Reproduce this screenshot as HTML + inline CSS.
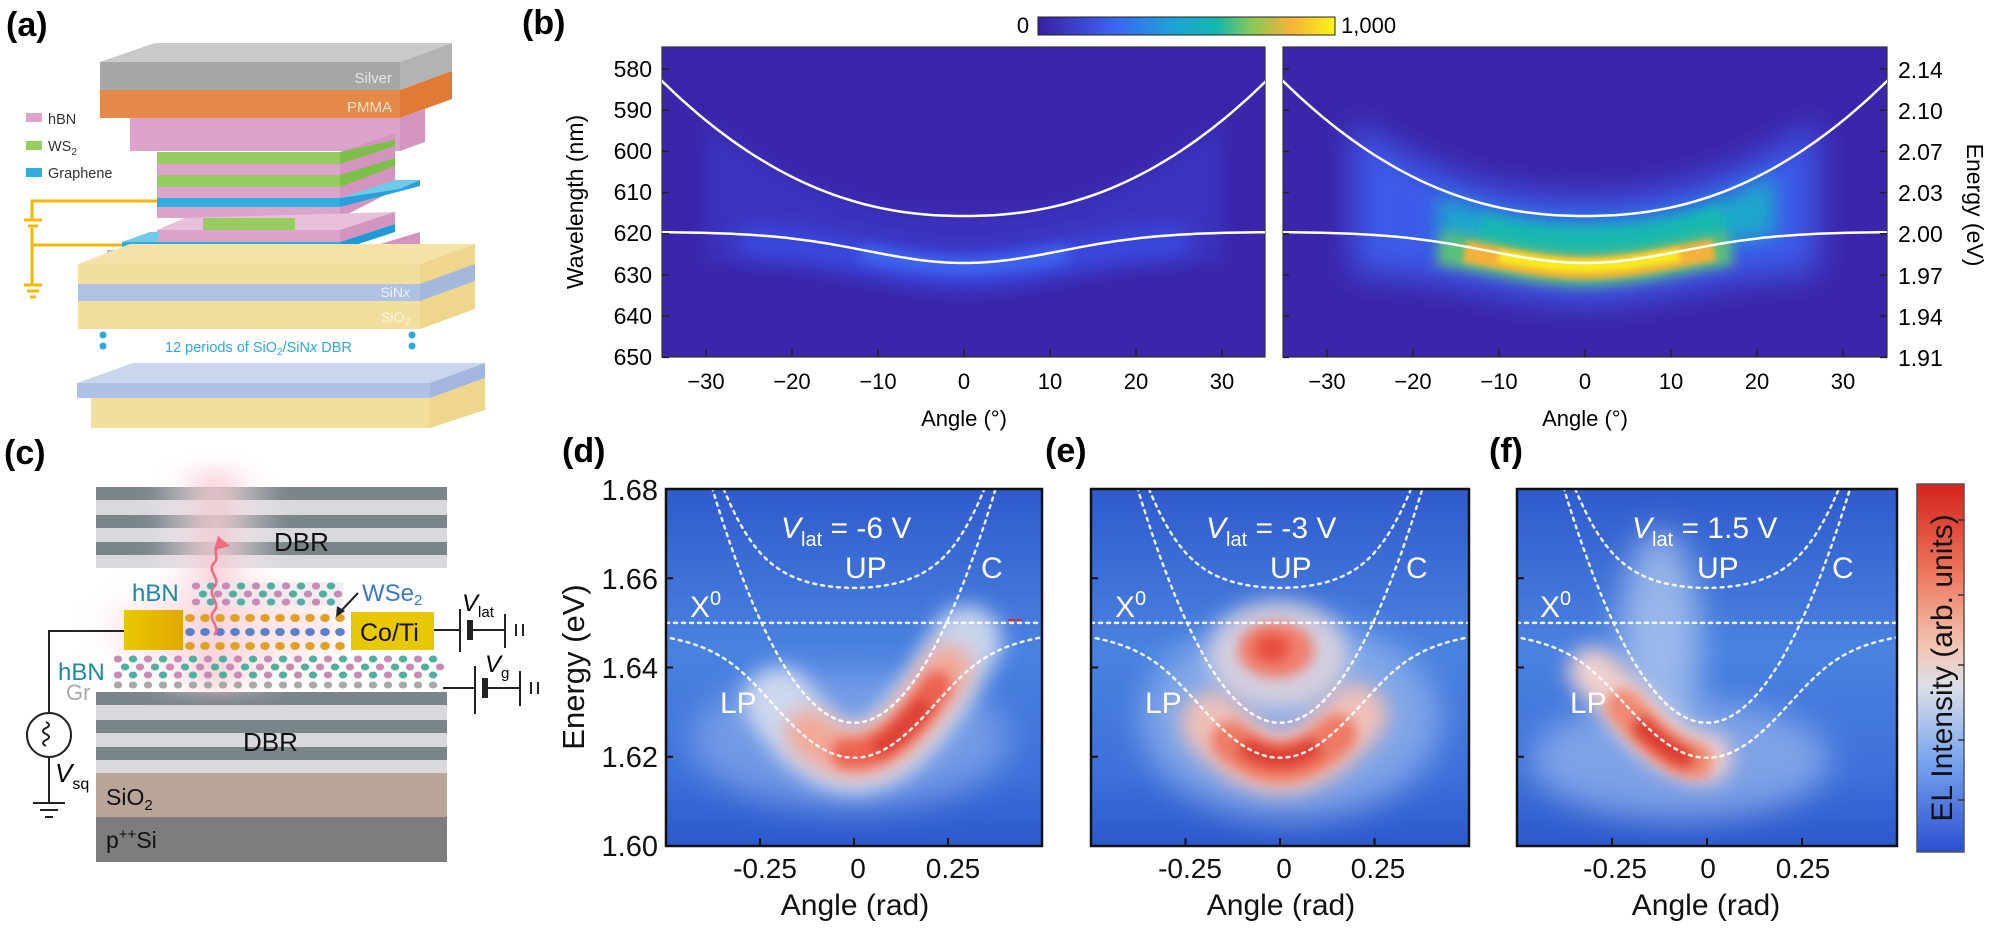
<!DOCTYPE html>
<html><head><meta charset="utf-8">
<style>
html,body{margin:0;padding:0;background:#fff;}
svg{display:block;font-family:"Liberation Sans",Arial,sans-serif;}
</style></head>
<body>
<svg id="s" width="1996" height="930" viewBox="0 0 1996 930" xmlns="http://www.w3.org/2000/svg">
<defs>
 <filter id="b3" filterUnits="userSpaceOnUse" x="0" y="0" width="1996" height="930"><feGaussianBlur stdDeviation="3"/></filter>
 <filter id="b6" filterUnits="userSpaceOnUse" x="0" y="0" width="1996" height="930"><feGaussianBlur stdDeviation="6"/></filter>
 <filter id="b10" filterUnits="userSpaceOnUse" x="0" y="0" width="1996" height="930"><feGaussianBlur stdDeviation="10"/></filter>
 <filter id="b16" filterUnits="userSpaceOnUse" x="0" y="0" width="1996" height="930"><feGaussianBlur stdDeviation="16"/></filter>
 <clipPath id="cbL"><rect x="662" y="47" width="603" height="310"/></clipPath>
 <clipPath id="cbR"><rect x="1283" y="47" width="604" height="310"/></clipPath>
 <clipPath id="cd"><rect x="666" y="489" width="376" height="357"/></clipPath>
 <clipPath id="ce"><rect x="1091" y="489" width="378" height="357"/></clipPath>
 <clipPath id="cf"><rect x="1517" y="489" width="380" height="357"/></clipPath>
 <linearGradient id="parula" x1="0" x2="1" y1="0" y2="0">
  <stop offset="0" stop-color="#3a1f9e"/><stop offset="0.25" stop-color="#3c62f2"/>
  <stop offset="0.45" stop-color="#1ea2d8"/><stop offset="0.6" stop-color="#14b7ad"/>
  <stop offset="0.72" stop-color="#86c958"/><stop offset="0.85" stop-color="#f6b238"/>
  <stop offset="1" stop-color="#f9f516"/>
 </linearGradient>
 <linearGradient id="elcb" x1="0" x2="0" y1="0" y2="1">
  <stop offset="0" stop-color="#d4231c"/><stop offset="0.25" stop-color="#ee7a60"/>
  <stop offset="0.45" stop-color="#f2c8b8"/><stop offset="0.55" stop-color="#dcdfe8"/>
  <stop offset="0.75" stop-color="#79a4ee"/><stop offset="1" stop-color="#2a4fcf"/>
 </linearGradient>
 <linearGradient id="dbg" x1="0" x2="0" y1="0" y2="1">
  <stop offset="0" stop-color="#2f5bcc"/><stop offset="0.45" stop-color="#4a82e0"/>
  <stop offset="0.8" stop-color="#3d70da"/><stop offset="1" stop-color="#2c58cc"/>
 </linearGradient>
 <linearGradient id="gold" x1="0" x2="1"><stop offset="0" stop-color="#e9c800"/><stop offset="1" stop-color="#e0a800"/></linearGradient>
 <linearGradient id="glowv" x1="0" x2="1"><stop offset="0" stop-color="#fff" stop-opacity="0"/><stop offset="0.5" stop-color="#f6c8d0" stop-opacity="0.9"/><stop offset="1" stop-color="#fff" stop-opacity="0"/></linearGradient>
</defs>

<!-- ============ (a) ============ -->
<text x="6" y="36" font-size="34" font-weight="bold">(a)</text>
<polygon points="100,62 155,43 452,43 400,62" fill="#c9c9c9"/>
<rect x="100" y="62" width="300" height="28" fill="#a6a6a6"/>
<polygon points="400,62 452,43 452,71 400,90" fill="#b3b3b3"/>
<text x="392" y="83" font-size="15" fill="#e8e8e8" text-anchor="end">Silver</text>
<rect x="100" y="90" width="300" height="28" fill="#e5894a"/>
<polygon points="400,90 452,71 452,99 400,118" fill="#e07a36"/>
<text x="392" y="112" font-size="15" fill="#fbe0cc" text-anchor="end">PMMA</text>
<rect x="130" y="118" width="270" height="33" fill="#dda4cb"/>
<polygon points="400,118 425,109 425,142 400,151" fill="#d395c0"/>
<rect x="157" y="152" width="183" height="12" fill="#97cd60"/>
<rect x="157" y="164" width="183" height="11" fill="#dda4cb"/>
<rect x="157" y="175" width="183" height="12" fill="#97cd60"/>
<rect x="157" y="187" width="183" height="11" fill="#dda4cb"/>
<rect x="157" y="198" width="183" height="9" fill="#30aee0"/>
<rect x="157" y="207" width="183" height="11" fill="#dda4cb"/>
<polygon points="340,152 395,133 395,190 340,218" fill="#d395c0"/>
<polygon points="340,152 395,140 395,146 340,164" fill="#7cc04a"/>
<polygon points="340,175 395,158 395,166 340,187" fill="#7cc04a"/>
<polygon points="340,198 420,180 420,186 340,207" fill="#2aa0d8"/>
<polygon points="340,198 395,180 420,180 400,189" fill="#6ecae8"/>
<polygon points="157,230 185,218 395,212 390,220 340,230" fill="#e8c0da"/>
<rect x="203" y="218" width="92" height="12" fill="#97cd60"/>
<rect x="157" y="230" width="183" height="12" fill="#dda4cb"/>
<polygon points="340,230 395,212 395,224 340,242" fill="#d395c0"/>
<polygon points="122,242 150,232 160,232 157,242" fill="#6ecae8"/>
<rect x="122" y="242" width="218" height="8" fill="#2aaee2"/>
<polygon points="340,242 395,224 395,232 340,250" fill="#1f9ad6"/>
<rect x="107" y="250" width="253" height="12" fill="#dda4cb"/>
<polygon points="360,250 420,232 420,244 360,262" fill="#d395c0"/>
<polygon points="78,264 130,244 475,244 420,264" fill="#f5e2a8"/>
<rect x="78" y="264" width="342" height="20" fill="#f3df9d"/>
<rect x="78" y="284" width="342" height="17" fill="#afc2e3"/>
<rect x="78" y="301" width="342" height="28" fill="#f3df9d"/>
<polygon points="420,264 475,244 475,309 420,329" fill="#efd68d"/>
<polygon points="420,284 475,264 475,281 420,301" fill="#a4b8de"/>
<text x="410" y="297" font-size="14" fill="#eef2fa" text-anchor="end">SiN<tspan font-style="italic">x</tspan></text>
<text x="410" y="322" font-size="14" fill="#fbf3dc" text-anchor="end">SiO<tspan font-size="10" dy="3">2</tspan></text>
<circle cx="103" cy="335" r="3.5" fill="#29a9e0"/><circle cx="103" cy="346" r="3.5" fill="#29a9e0"/>
<circle cx="412" cy="335" r="3.5" fill="#29a9e0"/><circle cx="412" cy="346" r="3.5" fill="#29a9e0"/>
<text x="165" y="352" font-size="14.5" fill="#29a9e0">12 periods of SiO<tspan font-size="10" dy="3">2</tspan><tspan dy="-3">/SiN</tspan><tspan font-style="italic">x</tspan> DBR</text>
<polygon points="77,383 133,363 485,363 430,383" fill="#c9d6ee"/>
<rect x="77" y="383" width="353" height="15" fill="#aec0e3"/>
<polygon points="430,383 485,363 485,378 430,398" fill="#a2b6de"/>
<rect x="91" y="398" width="339" height="30" fill="#f3df9d"/>
<polygon points="430,398 485,378 485,410 430,428" fill="#efd68d"/>
<rect x="26" y="113" width="16" height="9" fill="#dda4cb"/><text x="48" y="124" font-size="14.5" fill="#333">hBN</text>
<rect x="26" y="141" width="16" height="9" fill="#97cd60"/><text x="48" y="151" font-size="14.5" fill="#333">WS<tspan font-size="10" dy="4">2</tspan></text>
<rect x="26" y="168" width="16" height="9" fill="#30aee0"/><text x="48" y="178" font-size="14.5" fill="#333">Graphene</text>
<g stroke="#f5b800" stroke-width="3" fill="none">
 <path d="M157,201 H32 V220 M24,220 H42 M28,226 H38 M32,228 V285 M32,245 H122 M24,285 H42 M27,291 H39 M30,297 H36"/>
</g>

<!-- ============ (b) ============ -->
<text x="522" y="34" font-size="34" font-weight="bold">(b)</text>
<rect x="1038" y="17" width="297" height="18" fill="url(#parula)" stroke="#222" stroke-width="1"/>
<text x="1023" y="33" font-size="22" text-anchor="middle">0</text>
<text x="1341" y="33" font-size="22">1,000</text>
<rect x="662" y="47" width="603" height="310" fill="#3b25aa" stroke="#333" stroke-width="1.2"/>
<rect x="1283" y="47" width="604" height="310" fill="#3b25aa" stroke="#333" stroke-width="1.2"/>
<g id="bL" clip-path="url(#cbL)"></g>
<g id="bR" clip-path="url(#cbR)"></g>
<g font-size="23" text-anchor="end">
 <text x="652" y="77">580</text><text x="652" y="118">590</text><text x="652" y="159">600</text><text x="652" y="200">610</text>
 <text x="652" y="241">620</text><text x="652" y="283">630</text><text x="652" y="324">640</text><text x="652" y="365">650</text>
</g>
<g font-size="23" text-anchor="start">
 <text x="1898" y="78">2.14</text><text x="1898" y="119">2.10</text><text x="1898" y="160">2.07</text><text x="1898" y="201">2.03</text>
 <text x="1898" y="242">2.00</text><text x="1898" y="284">1.97</text><text x="1898" y="325">1.94</text><text x="1898" y="366">1.91</text>
</g>
<text transform="translate(583,202) rotate(-90)" font-size="23" text-anchor="middle">Wavelength (nm)</text>
<text transform="translate(1967,205) rotate(90)" font-size="23" text-anchor="middle">Energy (eV)</text>
<g font-size="22" text-anchor="middle">
 <text x="706" y="389">−30</text><text x="792" y="389">−20</text><text x="878" y="389">−10</text><text x="964" y="389">0</text>
 <text x="1050" y="389">10</text><text x="1136" y="389">20</text><text x="1222" y="389">30</text>
 <text x="1327" y="389">−30</text><text x="1413" y="389">−20</text><text x="1499" y="389">−10</text><text x="1585" y="389">0</text>
 <text x="1671" y="389">10</text><text x="1757" y="389">20</text><text x="1843" y="389">30</text>
</g>
<text x="964" y="426" font-size="22" text-anchor="middle">Angle (°)</text>
<text x="1585" y="426" font-size="22" text-anchor="middle">Angle (°)</text>

<!-- ============ (c) ============ -->
<text x="4" y="464" font-size="34" font-weight="bold">(c)</text>
<g id="cdbr">
 <rect x="96" y="487" width="351" height="81" fill="#d8d8dd"/>
 <rect x="96" y="487" width="351" height="13" fill="#7a858a"/>
 <rect x="96" y="515" width="351" height="13" fill="#7a858a"/>
 <rect x="96" y="542" width="351" height="13" fill="#7a858a"/>
 <rect x="96" y="692" width="351" height="81" fill="#d8d8dd"/>
 <rect x="96" y="692" width="351" height="13" fill="#7a858a"/>
 <rect x="96" y="720" width="351" height="13" fill="#7a858a"/>
 <rect x="96" y="747" width="351" height="13" fill="#7a858a"/>
 <rect x="96" y="773" width="351" height="44" fill="#b8a597"/>
 <rect x="96" y="817" width="351" height="45" fill="#7d7d7f"/>
</g>
<rect x="150" y="470" width="130" height="220" fill="url(#glowv)" filter="url(#b10)"/>
<ellipse cx="225" cy="630" rx="120" ry="40" fill="#f8d4dc" opacity="0.6" filter="url(#b16)"/>
<rect x="193" y="582" width="150" height="24" fill="#ece6ee" opacity="0.7"/>
<g id="atoms"></g>
<rect x="124" y="610" width="59" height="40" fill="url(#gold)"/>
<rect x="351" y="612" width="83" height="38" fill="#e8c800"/>
<text x="360" y="641" font-size="25" fill="#111">Co/Ti</text>
<text x="274" y="551" font-size="26" fill="#111">DBR</text>
<text x="243" y="751" font-size="26" fill="#111">DBR</text>
<text x="106" y="805" font-size="23" fill="#111">SiO<tspan font-size="15" dy="5">2</tspan></text>
<text x="106" y="848" font-size="23" fill="#111">p<tspan font-size="15" dy="-9">++</tspan><tspan dy="9">Si</tspan></text>
<text x="132" y="601" font-size="24" fill="#1a8aa0">hBN</text>
<text x="362" y="601" font-size="24" fill="#3b78c8">WSe<tspan font-size="15" dy="4">2</tspan></text>
<text x="58" y="680" font-size="24" fill="#1a8aa0">hBN</text>
<text x="66" y="700" font-size="22" fill="#aaa">Gr</text>
<path d="M358,593 L340,612" stroke="#222" stroke-width="2"/><path d="M336,617 L337,606 L345,611 Z" fill="#222"/>
<path d="M214,635 c8,-8 -8,-16 0,-24 c8,-8 -8,-16 0,-24 c8,-8 -8,-16 0,-24 c6,-6 -2,-10 4,-16" stroke="#f06a84" stroke-width="2.5" fill="none"/>
<path d="M218,536 L230,546 L214,550 Z" fill="#f06a84"/>
<g stroke="#222" stroke-width="2" fill="none">
 <path d="M124,631 H49 V713 M49,757 V803 M33,803 H65 M40,810 H58 M45,817 H53"/>
 <circle cx="49" cy="735" r="22"/>
 <path d="M46,722 q6,3 0,6 q-6,3 0,6 q6,3 0,6 q-6,3 0,6"/>
 <path d="M434,630 H460 M460,609 V652 M470,630 H505 M505,614 V648 M516,624 V636 M523,624 V636"/>
 <path d="M443,688 H475 M475,666 V714 M486,688 H520 M520,671 V706 M531,682 V694 M538,682 V694"/>
</g>
<rect x="467" y="620" width="6" height="20" fill="#222"/>
<rect x="482" y="678" width="6" height="20" fill="#222"/>
<text x="462" y="611" font-size="24" font-style="italic">V<tspan font-size="15" font-style="normal" dy="6">lat</tspan></text>
<text x="485" y="672" font-size="24" font-style="italic">V<tspan font-size="15" font-style="normal" dy="6">g</tspan></text>
<text x="55" y="782" font-size="26" font-style="italic">V<tspan font-size="16" font-style="normal" dy="7">sq</tspan></text>

<!-- ============ (d)(e)(f) ============ -->
<text x="562" y="462" font-size="34" font-weight="bold">(d)</text>
<text x="1045" y="462" font-size="34" font-weight="bold">(e)</text>
<text x="1489" y="462" font-size="34" font-weight="bold">(f)</text>
<rect x="666" y="489" width="376" height="357" fill="url(#dbg)"/>
<rect x="1091" y="489" width="378" height="357" fill="url(#dbg)"/>
<rect x="1517" y="489" width="380" height="357" fill="url(#dbg)"/>
<g id="hd" clip-path="url(#cd)"></g>
<g id="he" clip-path="url(#ce)"></g>
<g id="hf" clip-path="url(#cf)"></g>
<rect x="666" y="489" width="376" height="357" fill="none" stroke="#111" stroke-width="2.5"/>
<rect x="1091" y="489" width="378" height="357" fill="none" stroke="#111" stroke-width="2.5"/>
<rect x="1517" y="489" width="380" height="357" fill="none" stroke="#111" stroke-width="2.5"/>
<rect x="1917" y="484" width="47" height="368" fill="url(#elcb)" stroke="#555" stroke-width="1.5"/>
<text transform="translate(1952,668) rotate(-90)" font-size="30" text-anchor="middle" fill="#111">EL Intensity (arb. units)</text>
<g font-size="29" text-anchor="end" fill="#111">
 <text x="658" y="500">1.68</text><text x="658" y="589">1.66</text><text x="658" y="678">1.64</text>
 <text x="658" y="767">1.62</text><text x="658" y="856">1.60</text>
</g>
<text transform="translate(584,667) rotate(-90)" font-size="31" text-anchor="middle" fill="#111">Energy (eV)</text>
<g font-size="28" text-anchor="middle" fill="#111">
 <text x="765" y="878">-0.25</text><text x="858" y="878">0</text><text x="953" y="878">0.25</text>
 <text x="1190" y="878">-0.25</text><text x="1284" y="878">0</text><text x="1378" y="878">0.25</text>
 <text x="1615" y="878">-0.25</text><text x="1708" y="878">0</text><text x="1803" y="878">0.25</text>
</g>
<g font-size="30" text-anchor="middle" fill="#111">
 <text x="855" y="915">Angle  (rad)</text><text x="1281" y="915">Angle  (rad)</text><text x="1706" y="915">Angle  (rad)</text>
</g>
<g fill="#fff" font-size="30">
 <text x="781" y="538"><tspan font-style="italic">V</tspan><tspan font-size="20" dy="8">lat</tspan><tspan dy="-8"> = -6 V</tspan></text>
 <text x="1206" y="538"><tspan font-style="italic">V</tspan><tspan font-size="20" dy="8">lat</tspan><tspan dy="-8"> = -3 V</tspan></text>
 <text x="1632" y="538"><tspan font-style="italic">V</tspan><tspan font-size="20" dy="8">lat</tspan><tspan dy="-8"> = 1.5 V</tspan></text>
 <text x="845" y="578">UP</text><text x="1270" y="578">UP</text><text x="1697" y="578">UP</text>
 <text x="981" y="578">C</text><text x="1406" y="578">C</text><text x="1832" y="578">C</text>
 <text x="690" y="617">X<tspan font-size="20" dy="-12">0</tspan></text>
 <text x="1115" y="617">X<tspan font-size="20" dy="-12">0</tspan></text>
 <text x="1540" y="617">X<tspan font-size="20" dy="-12">0</tspan></text>
 <text x="720" y="713">LP</text><text x="1145" y="713">LP</text><text x="1570" y="713">LP</text>
</g>
<rect x="1008" y="619" width="14" height="2" fill="#d03030"/>

<script>
(function(){
var NS="http://www.w3.org/2000/svg";
function el(g,tag,a){var e=document.createElementNS(NS,tag);for(var k in a)e.setAttribute(k,a[k]);g.appendChild(e);return e;}
function path(f,t0,t1,n){var d="";for(var i=0;i<=n;i++){var t=t0+(t1-t0)*i/n;var p=f(t);d+=(i?"L":"M")+p[0].toFixed(1)+","+p[1].toFixed(1);}return d;}
function up(t){return 216-134*Math.pow(Math.abs(t)/35,2.2);}
function lo(t){return 232+31*Math.exp(-Math.pow(t/16,2));}
function band(cx,a,b,f1,o1,f2,o2){var d="";var n=40;for(var i=0;i<=n;i++){var t=a+(b-a)*i/n;d+=(i?"L":"M")+(cx+t*8.6)+","+(f1(t)+o1);}for(var i=n;i>=0;i--){var t=a+(b-a)*i/n;d+="L"+(cx+t*8.6)+","+(f2(t)+o2);}return d+"Z";}
var L=document.getElementById("bL"),R=document.getElementById("bR");
el(L,"path",{d:band(964,-30,30,up,0,lo,30),fill:"#3b3fd0",opacity:0.55,filter:"url(#b10)"});
el(L,"path",{d:path(function(t){return[964+t*8.6,lo(t)+6];},-26,26,40),stroke:"#3a52ee",'stroke-width':30,fill:"none",opacity:0.7,filter:"url(#b10)"});
el(L,"path",{d:path(function(t){return[964+t*8.6,lo(t)+3];},-12,12,30),stroke:"#4170f8",'stroke-width':16,fill:"none",opacity:0.8,filter:"url(#b6)"});
el(R,"path",{d:band(1585,-27,27,up,-20,lo,40),fill:"#3c60f0",opacity:0.9,filter:"url(#b16)"});
el(R,"path",{d:band(1585,-17,22,up,6,lo,0),fill:"#1ea8cc",filter:"url(#b10)"});
el(R,"path",{d:band(1585,-12,16,up,12,lo,-4),fill:"#14b7b0",filter:"url(#b6)"});
el(R,"path",{d:path(function(t){return[1585+t*8.6,lo(t)+6];},-17,17,40),stroke:"#5cc07a",'stroke-width':34,fill:"none",filter:"url(#b6)"});
el(R,"path",{d:path(function(t){return[1585+t*8.6,lo(t)+5];},-14,15,40),stroke:"#f4b13a",'stroke-width':22,fill:"none",filter:"url(#b3)"});
el(R,"path",{d:path(function(t){return[1585+t*8.6,lo(t)+3];},-10,11,40),stroke:"#f8ec1c",'stroke-width':12,fill:"none",filter:"url(#b3)"});
[[L,964],[R,1585]].forEach(function(p){
 el(p[0],"path",{d:path(function(t){return[p[1]+t*8.6,up(t)];},-36,36,80),stroke:"#fff",'stroke-width':2.5,fill:"none"});
 el(p[0],"path",{d:path(function(t){return[p[1]+t*8.6,lo(t)];},-36,36,80),stroke:"#fff",'stroke-width':2.5,fill:"none"});
});
var s=document.getElementById("s");
[[964],[1585]].forEach(function(c){for(var t=-30;t<=30;t+=10){el(s,"line",{x1:c[0]+t*8.6,x2:c[0]+t*8.6,y1:357,y2:349,stroke:"#222",'stroke-width':1.5});}});
for(var i=0;i<8;i++){var y=69+i*41.2;el(s,"line",{x1:662,x2:669,y1:y,y2:y,stroke:"#222",'stroke-width':1.5});el(s,"line",{x1:1887,x2:1880,y1:y,y2:y,stroke:"#222",'stroke-width':1.5});el(s,"line",{x1:1283,x2:1289,y1:y,y2:y,stroke:"#222",'stroke-width':1.5});}
var A=document.getElementById("atoms");
function row(x0,x1,y,dx,cols,r){var i=0;for(var x=x0;x<=x1;x+=dx){el(A,"ellipse",{cx:x,cy:y,rx:r*1.2,ry:r,fill:cols[i%cols.length]});i++;}}
row(196,340,586,15,["#c98ab4","#4fb0a0"],3.5);row(203,340,594,15,["#4fb0a0","#c98ab4"],3.5);row(196,340,602,15,["#c98ab4","#4fb0a0"],3.5);
row(190,345,618,15,["#e0a020"],4);row(190,345,632,15,["#5a80c8"],4);row(190,345,646,15,["#e0a020"],4);
row(118,445,659,15,["#c98ab4","#4fb0a0"],3.5);row(125,445,667,15,["#4fb0a0","#c98ab4"],3.5);row(118,445,675,15,["#c98ab4","#4fb0a0"],3.5);
row(118,445,685,15,["#a8a8a8"],3.5);
var X=1.65,g=0.0154;
function C(k){return 1.6276+0.37*k*k;}
function LP(k){var c=C(k);return (X+c)/2-Math.sqrt(g*g+Math.pow((c-X)/2,2));}
function UP(k){var c=C(k);return (X+c)/2+Math.sqrt(g*g+Math.pow((c-X)/2,2));}
function mk(x0,w){return {x:function(k){return x0+(k+0.5)*w;},y:function(E){return 489+(1.68-E)/0.08*357;}};}
function strokeAlong(G,m,f,a,b,off,col,wd,fl,op){el(G,"path",{d:path(function(k){return[m.x(k),m.y(f(k)+off)];},a,b,40),stroke:col,'stroke-width':wd,fill:"none",'stroke-linecap':"round",filter:fl,opacity:op||1});}
function dash(G,m){
 var o={stroke:"#fff",'stroke-width':2.5,fill:"none",'stroke-dasharray':"3 5",'stroke-linecap':"round",opacity:0.9};
 o.d=path(function(k){return[m.x(k),m.y(C(k))];},-0.55,0.55,120);el(G,"path",o);
 o.d=path(function(k){return[m.x(k),m.y(UP(k))];},-0.55,0.55,120);el(G,"path",o);
 o.d=path(function(k){return[m.x(k),m.y(LP(k))];},-0.55,0.55,120);el(G,"path",o);
 o.d="M"+m.x(-0.5)+","+m.y(X)+"H"+m.x(0.5);el(G,"path",o);
}
function mid(k){return (LP(k)+C(k))/2;}
var d=document.getElementById("hd"),md=mk(666,376);
el(d,"ellipse",{cx:850,cy:740,rx:160,ry:70,fill:"#9ab8ee",opacity:0.55,filter:"url(#b16)"});
strokeAlong(d,md,mid,-0.2,0.3,-0.004,"#d8dff0",70,"url(#b10)",0.9);
strokeAlong(d,md,mid,-0.12,0.25,-0.003,"#f3a896",48,"url(#b10)");
strokeAlong(d,md,mid,-0.02,0.22,-0.003,"#ec6250",30,"url(#b6)");
strokeAlong(d,md,mid,0.07,0.18,-0.003,"#da3c30",16,"url(#b6)");
dash(d,md);
var e=document.getElementById("he"),me=mk(1091,378);
el(e,"ellipse",{cx:1290,cy:720,rx:150,ry:100,fill:"#a9c4f0",opacity:0.6,filter:"url(#b16)"});
el(e,"ellipse",{cx:1278,cy:655,rx:70,ry:55,fill:"#e8d8dc",opacity:0.8,filter:"url(#b10)"});
el(e,"ellipse",{cx:1276,cy:650,rx:38,ry:28,fill:"#f08070",filter:"url(#b6)"});
el(e,"ellipse",{cx:1272,cy:648,rx:18,ry:14,fill:"#e8503e",filter:"url(#b6)"});
strokeAlong(e,me,LP,-0.18,0.2,-0.001,"#efc0b8",64,"url(#b10)");
strokeAlong(e,me,LP,-0.13,0.15,-0.001,"#ee7a64",40,"url(#b6)");
strokeAlong(e,me,LP,-0.08,0.08,0.0,"#dc3e30",20,"url(#b6)");
dash(e,me);
var f=document.getElementById("hf"),mf=mk(1517,380);
el(f,"ellipse",{cx:1660,cy:640,rx:40,ry:110,fill:"#bcd0f0",opacity:0.7,filter:"url(#b16)"});
el(f,"ellipse",{cx:1680,cy:760,rx:150,ry:60,fill:"#a8c2f0",opacity:0.6,filter:"url(#b16)"});
strokeAlong(f,mf,LP,-0.3,-0.0,0.0,"#f0d0cc",50,"url(#b10)");
strokeAlong(f,mf,LP,-0.22,-0.03,-0.001,"#f08a72",36,"url(#b6)");
strokeAlong(f,mf,LP,-0.17,-0.06,-0.001,"#dc3a2e",20,"url(#b6)");
dash(f,mf);
[[666,376,md],[1091,378,me],[1517,380,mf]].forEach(function(p){
 [-0.25,0,0.25].forEach(function(k){var x=p[2].x(k);el(s,"line",{x1:x,x2:x,y1:846,y2:838,stroke:"#111",'stroke-width':2});});
 [1.66,1.64,1.62].forEach(function(E){var y=p[2].y(E);el(s,"line",{x1:p[0],x2:p[0]+7,y1:y,y2:y,stroke:"#111",'stroke-width':2});});
});
[520,595,665,740,800].forEach(function(y){el(s,"line",{x1:1958,x2:1964,y1:y,y2:y,stroke:"#333",'stroke-width':1.5});});
})();
</script>
</svg>
</body></html>
